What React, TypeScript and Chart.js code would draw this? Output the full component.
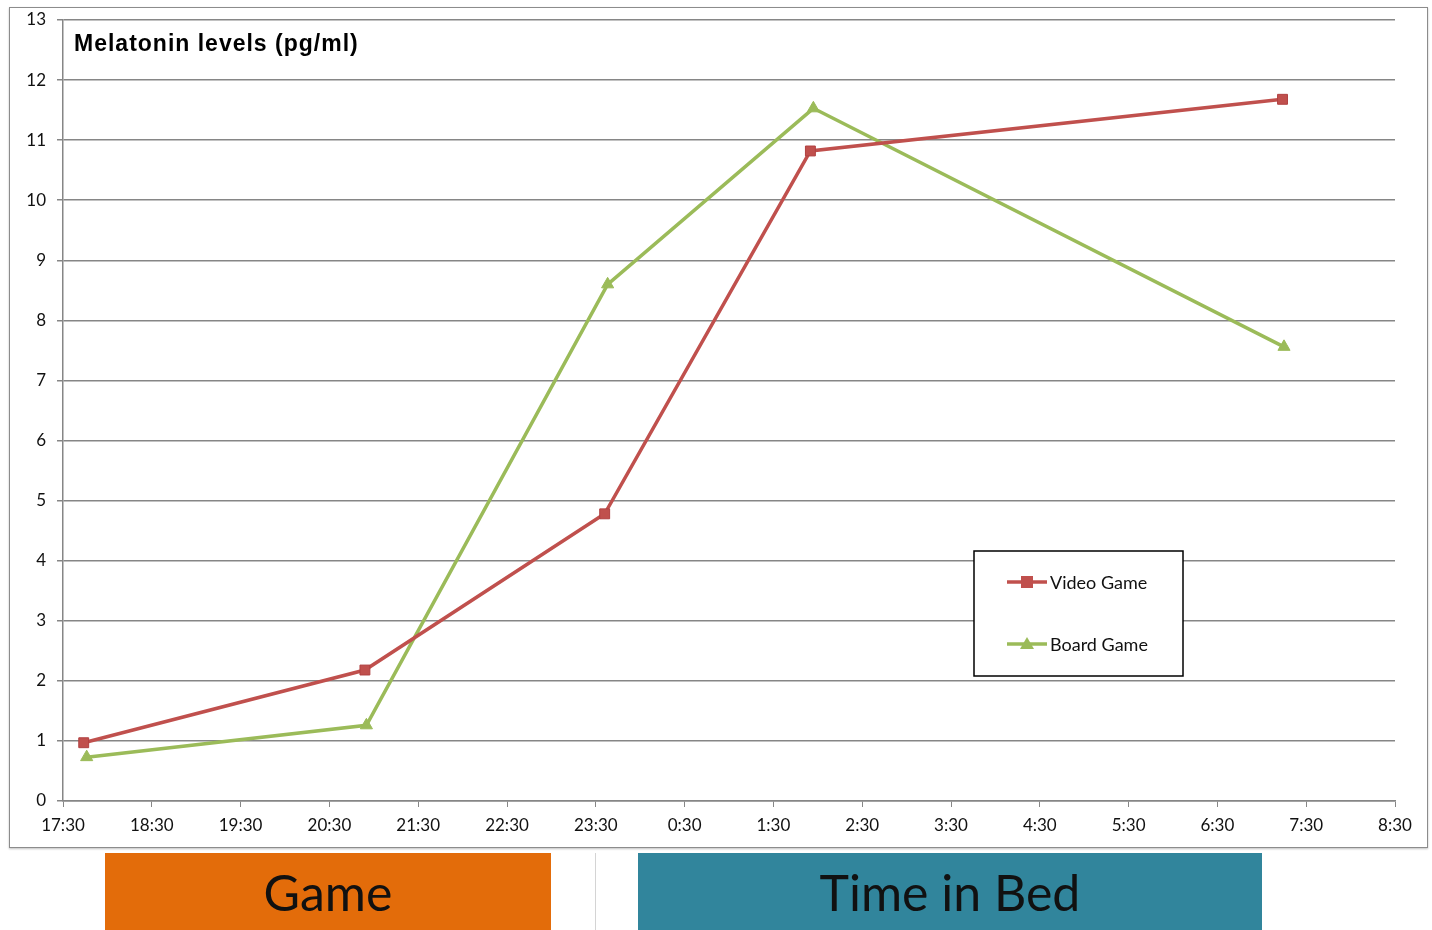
import React, { useEffect, useRef } from "react";
import { Chart, registerables } from "chart.js";

Chart.register(...registerables);

// Time-of-day tick labels (one per hour from 17:30 to 8:30)
const timeLabels = [
  "17:30", "18:30", "19:30", "20:30", "21:30", "22:30", "23:30", "0:30",
  "1:30", "2:30", "3:30", "4:30", "5:30", "6:30", "7:30", "8:30",
];

// Sample times and melatonin values
const videoTimes = ["17:44", "20:54", "23:36", "1:55", "7:14"];
const videoValues = [0.97, 2.18, 4.78, 10.82, 11.68];

const boardTimes = ["17:46", "20:55", "23:38", "1:57", "7:15"];
const boardValues = [0.73, 1.26, 8.6, 11.53, 7.56];

const seriesNames = ["Video Game", "Board Game"];
const seriesColors = ["#C0504D", "#9BBB59"];
const chartTitle = "Melatonin levels (pg/ml)";

const bandLabels = ["Game", "Time in Bed"];

// hours after 17:30
function toOffset(t: string): number {
  const [h, m] = t.split(":").map(Number);
  let mins = h * 60 + m - (17 * 60 + 30);
  if (mins < 0) mins += 24 * 60;
  return mins / 60;
}

const TICK_FONT = { family: "Lato, 'Open Sans', sans-serif", size: 17 };

const overlayPlugin = {
  id: "overlay",
  afterDraw(chart: any) {
    const ctx = chart.ctx;
    const area = chart.chartArea;
    ctx.save();
    // title
    ctx.fillStyle = "#000";
    ctx.font = "bold 23px 'Liberation Sans', Arial, sans-serif";
    try { (ctx as any).letterSpacing = "1px"; } catch (e) {}
    ctx.textBaseline = "middle";
    ctx.textAlign = "left";
    ctx.fillText(chartTitle, area.left + 11, area.top + 25);
    try { (ctx as any).letterSpacing = "0px"; } catch (e) {}

    // legend box
    const bx = 964, by = 543, bw = 209, bh = 125;
    ctx.fillStyle = "#fff";
    ctx.fillRect(bx, by, bw, bh);
    ctx.strokeStyle = "#000";
    ctx.lineWidth = 1.5;
    ctx.strokeRect(bx, by, bw, bh);

    const rows = [by + 31, by + 93];
    seriesNames.forEach((name, i) => {
      const y = rows[i];
      const col = seriesColors[i];
      ctx.strokeStyle = col;
      ctx.lineWidth = 3.5;
      ctx.beginPath();
      ctx.moveTo(bx + 33, y);
      ctx.lineTo(bx + 73, y);
      ctx.stroke();
      ctx.fillStyle = col;
      const cx = bx + 53;
      if (i === 0) {
        ctx.fillRect(cx - 6, y - 6, 12, 12);
      } else {
        ctx.beginPath();
        ctx.moveTo(cx, y - 7);
        ctx.lineTo(cx + 7, y + 5);
        ctx.lineTo(cx - 7, y + 5);
        ctx.closePath();
        ctx.fill();
      }
      ctx.fillStyle = "#111";
      ctx.font = "18px Lato, 'Open Sans', sans-serif";
      ctx.textAlign = "left";
      ctx.textBaseline = "middle";
      ctx.fillText(name, bx + 76, y + 1);
    });
    ctx.restore();
  },
};

function ChartCanvas() {
  const ref = useRef<HTMLCanvasElement>(null);
  useEffect(() => {
    if (!ref.current) return;
    const chart = new Chart(ref.current, {
      type: "line",
      data: {
        datasets: [
          {
            label: seriesNames[0],
            data: videoTimes.map((t, i) => ({ x: toOffset(t), y: videoValues[i] })),
            borderColor: seriesColors[0],
            backgroundColor: seriesColors[0],
            borderWidth: 3.5,
            pointStyle: "rect",
            pointRadius: 7,
            pointBorderColor: "#B04040",
            pointBorderWidth: 1,
            tension: 0,
          },
          {
            label: seriesNames[1],
            data: boardTimes.map((t, i) => ({ x: toOffset(t), y: boardValues[i] })),
            borderColor: seriesColors[1],
            backgroundColor: seriesColors[1],
            borderWidth: 3.5,
            pointStyle: "triangle",
            pointRadius: 7,
            pointBorderWidth: 1,
            tension: 0,
          },
        ],
      },
      options: {
        responsive: false,
        animation: false,
        layout: { padding: { top: 12, right: 32, left: 0, bottom: 0 } },
        plugins: {
          legend: { display: false },
          title: { display: false },
          tooltip: { enabled: false },
        },
        scales: {
          x: {
            type: "linear",
            min: 0,
            max: 15,
            ticks: {
              stepSize: 1,
              autoSkip: false,
              maxRotation: 0,
              color: "#111",
              font: TICK_FONT,
              padding: 8,
              callback: (v: any) => timeLabels[Math.round(Number(v))] ?? "",
            },
            grid: {
              display: true,
              drawOnChartArea: false,
              drawTicks: true,
              tickLength: 6,
              color: "#868686",
              lineWidth: 1,
            },
            border: { display: true, color: "#868686", width: 1.5 },
            afterFit: (s: any) => {
              s.height = 46;
              s.paddingLeft = 0;
              s.paddingRight = 0;
            },
          },
          y: {
            min: 0,
            max: 13,
            ticks: {
              stepSize: 1,
              color: "#111",
              font: TICK_FONT,
              padding: 11,
            },
            grid: {
              color: "#868686",
              lineWidth: 1.5,
              tickLength: 6,
            },
            border: { display: true, color: "#868686", width: 1.5 },
            afterFit: (s: any) => {
              s.width = 53;
              s.paddingTop = 0;
              s.paddingBottom = 0;
            },
          },
        },
      },
      plugins: [overlayPlugin],
    } as any);
    return () => chart.destroy();
  }, []);
  return <canvas ref={ref} width={1417} height={839} style={{ display: "block" }} />;
}

export default function App() {
  const bandFont = "Lato, 'Open Sans', sans-serif";
  return (
    <div style={{ position: "absolute", left: 0, top: 0, width: 1432, height: 930, background: "#fff", overflow: "hidden" }}>
      <div
        style={{
          position: "absolute",
          left: 9,
          top: 7,
          width: 1419,
          height: 841,
          border: "1px solid #8c8c8c",
          boxSizing: "border-box",
          boxShadow: "0 1px 2px rgba(0,0,0,0.25)",
          background: "#fff",
        }}
      >
        <ChartCanvas />
      </div>
      <div
        style={{
          position: "absolute", left: 105, top: 853, width: 446, height: 77,
          background: "#E36C0A", display: "flex", alignItems: "center", justifyContent: "center",
          fontFamily: bandFont, fontSize: 50, color: "#111",
        }}
      >
        {bandLabels[0]}
      </div>
      <div style={{ position: "absolute", left: 595, top: 853, width: 1, height: 77, background: "#d4d4d4" }} />
      <div
        style={{
          position: "absolute", left: 638, top: 853, width: 624, height: 77,
          background: "#31859C", display: "flex", alignItems: "center", justifyContent: "center",
          fontFamily: bandFont, fontSize: 50, color: "#111",
        }}
      >
        {bandLabels[1]}
      </div>
    </div>
  );
}
